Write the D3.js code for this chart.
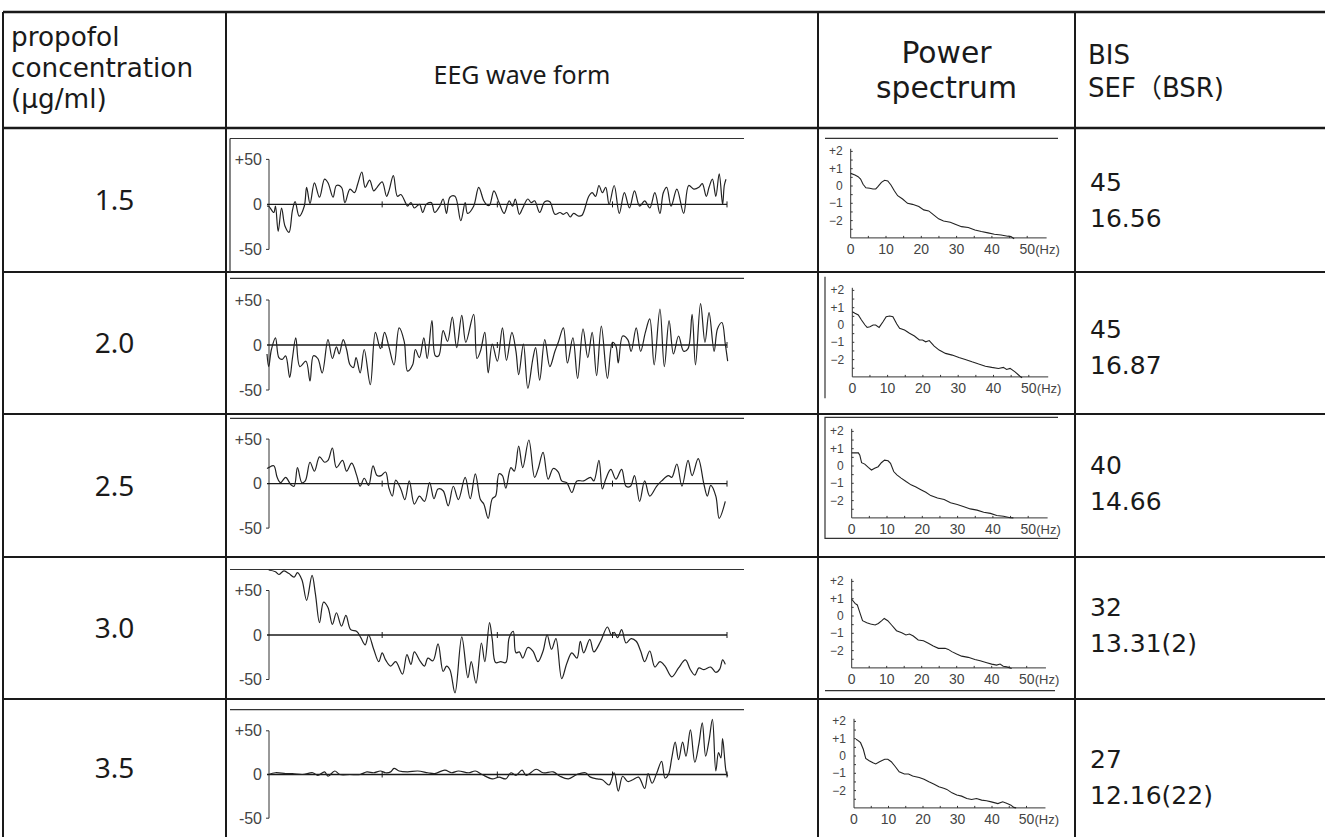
<!DOCTYPE html>
<html><head><meta charset="utf-8">
<script src="https://cdn.jsdelivr.net/npm/d3@7"></script>
<style>body{margin:0;background:#fff;} svg{display:block;}</style>
</head><body>
<svg id="c" width="1325" height="837"></svg>
<script>
// ---------- data ----------
const concentrations = ["1.5", "2.0", "2.5", "3.0", "3.5"];
const bisValues = ["45", "45", "40", "32", "27"];
const sefValues = ["16.56", "16.87", "14.66", "13.31(2)", "12.16(22)"];
const headerConc = ["propofol", "concentration", "(\u03bcg/ml)"];
const headerEEG = "EEG wave form";
const headerPS = ["Power", "spectrum"];
const headerBIS = ["BIS", "SEF\uff08BSR)"];
const eegTicks = [50, 0, -50];
const eegTickLabels = ["+50", "0", "-50"];
const eegTimeTicks = [340, 680, 1020, 1358];
const psYTicks = [2, 1, 0, -1, -2];
const psYTickLabels = ["+2", "+1", "0", "\u22121", "\u22122"];
const psXTicks = [0, 10, 20, 30, 40, 50];

// EEG samples: [time sample, microvolts]
const eeg15 = [[0,-2],[5,-2],[20,-9],[25,-2],[33,-30],[43,-4],[53,-24],[65,-31],[75,-7],[83,3],[95,-13],[110,-2],[117,19],[127,1],[140,24],[155,8],[170,28],[180,24],[195,8],[205,21],[220,19],[230,2],[245,17],[258,13],[268,23],[280,36],[290,19],[303,27],[315,15],[325,19],[340,25],[353,9],[360,15],[373,32],[385,9],[395,11],[410,1],[415,-2],[425,2],[435,-4],[450,0],[460,-9],[470,0],[485,2],[495,-9],[510,-2],[520,6],[530,-10],[540,8],[555,9],[572,-18],[585,2],[592,-10],[610,-2],[625,19],[640,4],[650,-1],[657,-1],[670,15],[685,2],[700,-10],[715,4],[725,-2],[733,6],[745,-11],[755,-4],[770,6],[780,2],[790,4],[805,-9],[820,3],[835,3],[850,-11],[865,-9],[875,-11],[885,-9],[895,-14],[905,-10],[920,-13],[930,-12],[950,9],[960,13],[970,9],[980,21],[990,13],[1000,19],[1010,0],[1025,21],[1040,-10],[1055,13],[1070,-4],[1085,15],[1100,-2],[1115,4],[1130,-4],[1145,13],[1160,-10],[1170,13],[1180,19],[1193,-2],[1210,17],[1230,-10],[1245,21],[1260,17],[1275,19],[1285,23],[1297,9],[1305,19],[1315,28],[1325,9],[1335,34],[1345,0],[1350,21],[1355,28]];
const eeg20 = [[0,-10],[5,-24],[13,-5],[25,8],[35,-14],[45,-16],[55,-12],[67,-36],[75,-15],[85,8],[97,-24],[115,-18],[127,-40],[137,-12],[150,-15],[163,-31],[180,6],[193,-15],[205,-2],[213,-10],[225,6],[235,-5],[245,-22],[255,-25],[263,-14],[275,-31],[287,-5],[305,-44],[320,14],[335,-4],[347,14],[360,-2],[375,-22],[390,19],[405,4],[415,-29],[430,-22],[438,-5],[450,-14],[463,8],[473,-15],[487,27],[497,-12],[507,-12],[520,16],[533,4],[547,31],[560,-3],[575,33],[587,3],[610,34],[620,-15],[630,-7],[643,14],[653,-31],[665,1],[680,-18],[695,19],[707,-17],[723,14],[735,-7],[743,-33],[757,1],[770,-48],[785,-15],[793,-3],[805,-39],[820,6],[835,-24],[850,-7],[860,3],[875,19],[887,-20],[903,8],[917,-37],[933,18],[947,-14],[960,14],[973,-34],[987,21],[1005,-37],[1020,3],[1030,-1],[1037,-20],[1050,10],[1065,6],[1075,-7],[1090,19],[1103,-7],[1117,14],[1130,29],[1143,-22],[1160,40],[1173,-24],[1187,27],[1200,-10],[1215,10],[1230,-7],[1243,-4],[1255,34],[1265,-22],[1280,46],[1293,3],[1305,36],[1320,-7],[1330,18],[1343,25],[1353,1],[1360,-18]];
const eeg25 = [[0,17],[5,18],[20,20],[30,7],[40,1],[55,7],[70,-1],[80,-3],[90,18],[103,1],[113,3],[127,24],[140,14],[155,30],[170,24],[180,26],[193,40],[205,18],[223,26],[235,14],[250,23],[265,9],[275,-3],[287,6],[300,-2],[313,20],[325,9],[337,9],[350,13],[360,-5],[370,-14],[380,4],[395,-6],[407,-18],[420,3],[435,-23],[450,-14],[465,-20],[480,1],[493,-17],[505,-6],[520,-8],[535,-25],[550,-3],[565,-18],[585,7],[600,-17],[615,11],[630,-18],[640,-23],[653,-39],[665,-17],[675,-14],[685,11],[695,9],[705,-5],[720,18],[730,14],[743,42],[755,18],[773,49],[790,7],[800,16],[815,35],[830,5],[845,17],[860,13],[870,3],[885,1],[900,-10],[915,3],[935,3],[955,7],[965,3],[980,26],[990,-6],[1000,5],[1015,16],[1030,5],[1047,16],[1060,-3],[1073,-3],[1085,9],[1100,-20],[1115,3],[1130,-14],[1150,-3],[1165,3],[1185,9],[1195,7],[1210,22],[1225,-3],[1243,26],[1255,9],[1273,28],[1290,-1],[1300,-14],[1310,-2],[1325,-14],[1335,-39],[1353,-20]];
const eeg30 = [[5,73],[25,71],[35,68],[50,72],[65,69],[80,65],[90,70],[103,62],[117,39],[133,67],[143,46],[155,14],[167,37],[180,31],[193,12],[205,25],[220,10],[233,22],[247,6],[265,4],[277,-3],[290,-11],[300,0],[315,-16],[330,-30],[340,-20],[350,-28],[365,-35],[380,-30],[400,-44],[413,-22],[425,-33],[435,-19],[453,-30],[465,-35],[475,-26],[490,-29],[505,-10],[520,-41],[530,-35],[540,-39],[555,-65],[575,-2],[593,-48],[603,-30],[617,-54],[633,-9],[643,-30],[657,14],[665,-5],[675,-31],[690,-30],[705,-31],[715,-3],[727,4],[735,-20],[745,-19],[755,-26],[770,-14],[785,-18],[800,-30],[815,-18],[827,0],[840,-16],[853,-4],[870,-49],[885,-32],[900,-20],[915,-26],[925,-7],[935,-20],[953,-5],[965,-19],[985,-7],[1005,9],[1017,0],[1025,3],[1035,-3],[1047,6],[1060,-9],[1075,-4],[1090,-7],[1103,-18],[1115,-30],[1130,-18],[1145,-36],[1160,-30],[1175,-35],[1195,-47],[1215,-37],[1235,-28],[1250,-39],[1263,-45],[1275,-37],[1290,-39],[1310,-36],[1325,-42],[1337,-38],[1345,-28],[1353,-33]];
const eeg35 = [[5,0],[25,2],[55,1],[75,1],[105,0],[135,2],[150,-1],[170,3],[180,-2],[200,4],[215,0],[245,0],[275,0],[295,3],[315,2],[335,4],[350,2],[365,3],[375,7],[390,4],[415,3],[445,4],[475,2],[495,1],[525,5],[545,2],[565,4],[595,2],[615,4],[635,0],[665,-5],[685,-3],[705,-5],[720,2],[735,-1],[753,5],[765,-1],[795,6],[815,2],[845,3],[865,-2],[890,-5],[915,0],[940,2],[955,-3],[975,-5],[990,-6],[1010,-12],[1025,2],[1037,-19],[1050,-2],[1065,-8],[1080,-6],[1097,-3],[1115,-16],[1125,1],[1137,-10],[1150,1],[1165,15],[1175,-4],[1185,0],[1195,19],[1205,37],[1215,17],[1227,37],[1237,21],[1250,51],[1263,14],[1275,35],[1285,59],[1295,21],[1305,39],[1315,63],[1325,4],[1333,25],[1340,19],[1345,41],[1355,4],[1360,-2]];

// Power spectra: [Hz, log power]
const ps15 = [[0,0.73],[1.2,0.63],[2.1,0.54],[2.8,0.4],[3.5,0.1],[4.3,-0.1],[5.4,-0.13],[6.3,-0.17],[7.1,-0.17],[7.7,-0.04],[8.7,0.21],[9.6,0.33],[10.5,0.29],[11.4,0.06],[12.4,-0.29],[13.3,-0.56],[14.7,-0.75],[16.1,-1.0],[17.5,-1.06],[19.3,-1.19],[20.7,-1.38],[22.1,-1.44],[23.5,-1.67],[24.9,-1.9],[26.3,-2.02],[28.2,-2.1],[29.6,-2.21],[31.4,-2.35],[33.3,-2.4],[35.2,-2.54],[37,-2.63],[38.9,-2.71],[40.7,-2.79],[42.6,-2.83],[44.5,-2.9],[45.4,-2.92],[46.3,-3.05]];
const ps20 = [[0,0.77],[0.75,0.68],[1.7,0.58],[2.6,0.29],[3.6,0],[4.2,-0.14],[5,-0.1],[5.9,0],[6.6,0],[7.6,-0.14],[8.7,0.19],[9.6,0.48],[10.6,0.52],[11.5,0.48],[12.6,0.06],[13.4,-0.19],[14.8,-0.29],[16.2,-0.48],[17.6,-0.64],[19,-0.87],[19.9,-0.87],[20.8,-0.97],[21.8,-0.9],[23.2,-1.22],[24.6,-1.45],[26.4,-1.64],[28.3,-1.74],[30.2,-1.88],[32,-1.99],[33.9,-2.13],[35.8,-2.26],[37.7,-2.38],[39.5,-2.45],[41.4,-2.51],[42.8,-2.45],[43.7,-2.57],[44.7,-2.51],[46.1,-2.71],[47.5,-2.96],[48.1,-3.05]];
const ps25 = [[0,0.76],[0.9,0.76],[1.9,0.76],[2.3,0.63],[2.8,0.19],[3.7,0.11],[4.7,-0.08],[5.6,-0.23],[6.5,-0.13],[7.5,-0.04],[8.4,0.19],[9.3,0.34],[10.3,0.3],[11,0.15],[11.9,-0.32],[12.8,-0.51],[14,-0.7],[15.4,-0.9],[16.8,-1.09],[18.2,-1.22],[19.6,-1.37],[21,-1.52],[22.4,-1.71],[24.3,-1.85],[26.2,-1.94],[28,-2.13],[29.9,-2.23],[31.8,-2.36],[33.6,-2.48],[35.5,-2.55],[37.4,-2.67],[39.3,-2.74],[41.1,-2.86],[43,-2.9],[44.9,-2.99],[45.8,-3.0]];
const ps30 = [[0,0.97],[0.95,0.73],[1.6,0.64],[2.4,0.15],[3.1,-0.27],[4.3,-0.39],[5.4,-0.46],[6.7,-0.52],[7.6,-0.43],[8.6,-0.27],[9.3,-0.14],[10.3,-0.27],[11.4,-0.52],[12.8,-0.85],[14.3,-0.97],[15.5,-1.1],[16.5,-1.04],[17.6,-1.16],[19,-1.39],[20.5,-1.43],[21.9,-1.58],[23.3,-1.74],[24.8,-1.87],[26.7,-1.87],[27.6,-1.93],[28.6,-2.06],[30,-2.2],[31.4,-2.32],[33.3,-2.39],[35.2,-2.51],[36.7,-2.59],[38.6,-2.7],[40,-2.78],[41.4,-2.84],[42.4,-2.78],[43.3,-2.9],[44.3,-2.94],[45.7,-3.04]];
const ps35 = [[0.6,0.97],[1.2,0.89],[1.9,0.77],[2.7,0.39],[3.4,-0.14],[4.4,-0.27],[5.5,-0.39],[6.3,-0.46],[7.4,-0.33],[8.9,-0.19],[9.8,-0.19],[10.8,-0.33],[12,-0.62],[13.1,-0.91],[14.6,-1.04],[15.8,-1.04],[17,-1.16],[17.9,-1.2],[18.9,-1.24],[20.3,-1.35],[21.7,-1.49],[23.1,-1.62],[24.6,-1.78],[26,-1.87],[26.9,-1.93],[28.4,-2.13],[29.8,-2.26],[31.2,-2.32],[32.7,-2.46],[34.1,-2.51],[35.5,-2.46],[37,-2.55],[38.4,-2.59],[39.8,-2.65],[41.7,-2.75],[43.1,-2.65],[44.4,-2.75],[45.5,-2.84],[46.3,-2.97],[47,-3.0]];

const eegSeries = [eeg15, eeg20, eeg25, eeg30, eeg35];
const psSeries = [ps15, ps20, ps25, ps30, ps35];

// ---------- layout ----------
const svg = d3.select("#c");
const W = 1325;
const tableLeft = 3, tableTop = 12, tableBottom = 837;
const colX = [226, 818, 1075];
const rowY = [128, 272, 414, 557, 699, 837];
const bisOffset = [63, 66, 60, 59, 69];

const eegZero = [204.4, 345, 483.6, 635, 774.5];
const eegHalf = [45, 45, 44.5, 44.5, 43.7];
const eegTop = [138.5, 278.4, 418.4, 569.5, 709.6];
const psX0 = [850.7, 852.3, 851.7, 851.7, 854];
const psZero = [186, 325, 466, 616, 756];
const psHz = [3.53, 3.53, 3.53, 3.5, 3.45];
const psUnit = 17.3;

const ink = "#1a1a1a";
const plotInk = "#333";
const hFont = "'Noto Sans', 'Open Sans', sans-serif";
const wideFont = "'DejaVu Sans', 'Noto Sans CJK JP', sans-serif";
const numFont = "'DejaVu Sans', sans-serif";
const tickFont = "'Liberation Sans', Arial, sans-serif";

// table lines
const tl = svg.append("g").attr("stroke", ink).attr("stroke-width", 2).attr("fill", "none");
tl.append("line").attr("x1", tableLeft).attr("x2", W).attr("y1", tableTop).attr("y2", tableTop).attr("stroke-width", 2.5);
tl.append("line").attr("x1", tableLeft).attr("x2", tableLeft).attr("y1", tableTop).attr("y2", tableBottom);
colX.forEach(x => tl.append("line").attr("x1", x).attr("x2", x).attr("y1", tableTop).attr("y2", tableBottom));
rowY.slice(0, 5).forEach((y, i) => tl.append("line").attr("x1", tableLeft).attr("x2", W).attr("y1", y).attr("y2", y).attr("stroke-width", i === 0 ? 2.5 : 2));

// header
const hg = svg.append("g").attr("fill", ink);
function lines(x, y0, arr, dy, size, anchor, font) {
  arr.forEach((s, i) => hg.append("text").attr("x", x).attr("y", y0 + i * dy)
    .attr("font-family", font).attr("font-size", size).attr("text-anchor", anchor).text(s));
}
lines(11, 46, headerConc, 31, 26.3, "start", wideFont);
hg.append("text").attr("x", (colX[0] + colX[1]) / 2).attr("y", 84).attr("text-anchor", "middle")
  .attr("font-family", hFont).attr("font-size", 25).text(headerEEG);
lines((colX[1] + colX[2]) / 2, 63, headerPS, 35, 29.8, "middle", wideFont);
lines(1088, 64, headerBIS, 33, 26, "start", wideFont);

// rows
concentrations.forEach((c, i) => {
  const top = rowY[i], bot = rowY[i + 1];
  const mid = (top + bot) / 2;
  svg.append("text").attr("x", (tableLeft + colX[0]) / 2).attr("y", mid + 10)
    .attr("text-anchor", "middle").attr("font-family", hFont).attr("font-size", 28).attr("fill", ink).text(c);
  svg.append("text").attr("x", 1090).attr("y", top + bisOffset[i])
    .attr("font-family", numFont).attr("font-size", 25).attr("fill", ink).text(bisValues[i]);
  svg.append("text").attr("x", 1090).attr("y", top + bisOffset[i] + 36)
    .attr("font-family", numFont).attr("font-size", 25).attr("fill", ink).text(sefValues[i]);

  // ---- EEG panel ----
  const g = svg.append("g");
  g.append("line").attr("x1", 230).attr("x2", 744).attr("y1", eegTop[i]).attr("y2", eegTop[i]).attr("stroke", plotInk).attr("stroke-width", 1.2);
  if (i === 0) g.append("line").attr("x1", 230).attr("x2", 230).attr("y1", eegTop[i]).attr("y2", bot).attr("stroke", plotInk).attr("stroke-width", 1.2);
  const x = d3.scaleLinear().domain([0, 1358]).range([267, 727]);
  const y = d3.scaleLinear().domain([-50, 50]).range([eegZero[i] + eegHalf[i], eegZero[i] - eegHalf[i]]);
  g.append("path").attr("d", `M${x(0) - 1},${y(50)}H${x(0) + 2}V${y(-50)}H${x(0) - 1}`).attr("fill", "none").attr("stroke", plotInk).attr("stroke-width", 1);
  g.append("line").attr("x1", x(0)).attr("x2", x(1358)).attr("y1", y(0)).attr("y2", y(0)).attr("stroke", ink).attr("stroke-width", 1.3);
  eegTimeTicks.forEach(t => g.append("line").attr("x1", x(t)).attr("x2", x(t)).attr("y1", y(0) - 3).attr("y2", y(0) + 3).attr("stroke", ink).attr("stroke-width", 1));
  eegTicks.forEach((v, k) => g.append("text").attr("x", 262).attr("y", y(v) + 5.5).attr("text-anchor", "end")
    .attr("font-family", tickFont).attr("font-size", 16).attr("fill", "#444").text(eegTickLabels[k]));
  g.append("path").datum(eegSeries[i])
    .attr("d", d3.line().x(d => x(d[0])).y(d => y(d[1])).curve(d3.curveCatmullRom.alpha(0.5)))
    .attr("fill", "none").attr("stroke", "#222").attr("stroke-width", 1.2);

  // ---- Power spectrum panel ----
  const p = svg.append("g");
  const px = d3.scaleLinear().domain([0, 10]).range([psX0[i], psX0[i] + psHz[i] * 10]);
  const py = d3.scaleLinear().domain([0, 1]).range([psZero[i], psZero[i] - psUnit]);
  if (i === 0) p.append("line").attr("x1", 825).attr("x2", 1058).attr("y1", 138.3).attr("y2", 138.3).attr("stroke", plotInk).attr("stroke-width", 1.2);
  if (i === 1) p.append("line").attr("x1", 825).attr("x2", 825).attr("y1", 276.7).attr("y2", 398.3).attr("stroke", plotInk).attr("stroke-width", 1.2);
  if (i === 2) p.append("path").attr("d", "M1058,417.3H825V538.3H1058").attr("fill", "none").attr("stroke", plotInk).attr("stroke-width", 1.2);
  if (i === 3) p.append("line").attr("x1", 825).attr("x2", 1055).attr("y1", 690.7).attr("y2", 690.7).attr("stroke", plotInk).attr("stroke-width", 1.2);
  p.append("path").attr("d", `M${px(0)},${py(2.15)}V${py(-3)}H${px(55.5)}`).attr("fill", "none").attr("stroke", plotInk).attr("stroke-width", 1);
  d3.range(-2.5, 2.01, 0.5).forEach(v => p.append("line").attr("x1", px(0)).attr("x2", px(0) + 2).attr("y1", py(v)).attr("y2", py(v)).attr("stroke", plotInk));
  d3.range(5, 55, 5).forEach(v => p.append("line").attr("x1", px(v)).attr("x2", px(v)).attr("y1", py(-3)).attr("y2", py(-3) - 2).attr("stroke", plotInk));
  psYTicks.forEach((v, k) => p.append("text").attr("x", px(0) - 8).attr("y", py(v) + 4).attr("text-anchor", "end")
    .attr("font-family", tickFont).attr("font-size", 12).attr("fill", "#444").text(psYTickLabels[k]));
  psXTicks.forEach(v => p.append("text").attr("x", px(v)).attr("y", py(-3) + 16).attr("text-anchor", "middle")
    .attr("font-family", tickFont).attr("font-size", 14).attr("fill", "#444").text(v));
  p.append("text").attr("x", px(50) + 8).attr("y", py(-3) + 16)
    .attr("font-family", tickFont).attr("font-size", 13).attr("fill", "#444").text("(Hz)");
  p.append("path").datum(psSeries[i])
    .attr("d", d3.line().x(d => px(d[0])).y(d => py(d[1])))
    .attr("fill", "none").attr("stroke", "#222").attr("stroke-width", 1.1);
});
</script>
</body></html>
